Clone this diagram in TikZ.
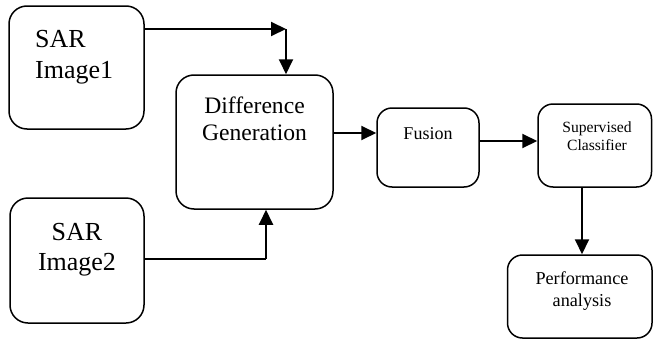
\documentclass[tikz,border=0pt]{standalone}
\usepackage{fontspec}
\setmainfont{Liberation Serif}
\usetikzlibrary{arrows.meta}
\begin{document}
\begin{tikzpicture}[x=1pt,y=-1pt,
  box/.style={draw, line width=1.5pt, rounded corners=#1, inner sep=0pt},
  box/.default=18pt,
  conn/.style={line width=2pt},
  arr/.style={conn, -{Triangle[length=15pt,width=14pt]}},
  txt/.style={anchor=base, inner sep=0pt}]
\useasboundingbox (0,0) rectangle (653,340);
% boxes
\node[box, minimum width=135pt, minimum height=123pt] (img1) at (76.5,67.5) {};
\node[box, minimum width=134pt, minimum height=125pt] (img2) at (77,260.5) {};
\node[box, minimum width=157pt, minimum height=134pt] (diff) at (254.5,142) {};
\node[box=15pt, minimum width=102pt, minimum height=79pt] (fus) at (428,147.5) {};
\node[box=15pt, minimum width=113.5pt, minimum height=83pt] (clf) at (594.75,145.5) {};
\node[box=15pt, minimum width=144.5pt, minimum height=83pt] (perf) at (579.75,296.5) {};
% texts
\node[txt, anchor=base west, font=\fontsize{26}{30}\selectfont] at (35,47) {SAR};
\node[txt, anchor=base west, font=\fontsize{26}{30}\selectfont] at (35,78) {Image1};
\node[txt, font=\fontsize{26}{30}\selectfont] at (77,240) {SAR};
\node[txt, font=\fontsize{26}{30}\selectfont] at (77,270) {Image2};
\node[txt, font=\fontsize{23.6}{27}\selectfont] at (254.5,113) {Difference};
\node[txt, font=\fontsize{23.6}{27}\selectfont] at (254.5,140) {Generation};
\node[txt, font=\fontsize{18}{21}\selectfont] at (428,139) {Fusion};
\node[txt, font=\fontsize{15.6}{18}\selectfont] at (597,132.7) {Supervised};
\node[txt, font=\fontsize{15.6}{18}\selectfont] at (597,150.7) {Classifier};
\node[txt, font=\fontsize{18.2}{22}\selectfont] at (582,284) {Performance};
\node[txt, font=\fontsize{18.2}{22}\selectfont] at (582,306) {analysis};
% connectors
\coordinate (c1) at (286,29);
\coordinate (c2) at (266,259);
\coordinate (c3) at (0,133);
\coordinate (c4) at (0,141);
\coordinate (c5) at (582,0);
\draw[arr] (img1.east |- c1) -- (c1);
\draw[arr] (c1) -- (diff.north -| c1);
\draw[conn] (img2.east |- c2) -- (c2);
\draw[arr] (c2) -- (diff.south -| c2);
\draw[arr] (diff.east |- c3) -- (fus.west |- c3);
\draw[arr] (fus.east |- c4) -- (clf.west |- c4);
\draw[arr] (clf.south -| c5) -- (perf.north -| c5);
\end{tikzpicture}
\end{document}
